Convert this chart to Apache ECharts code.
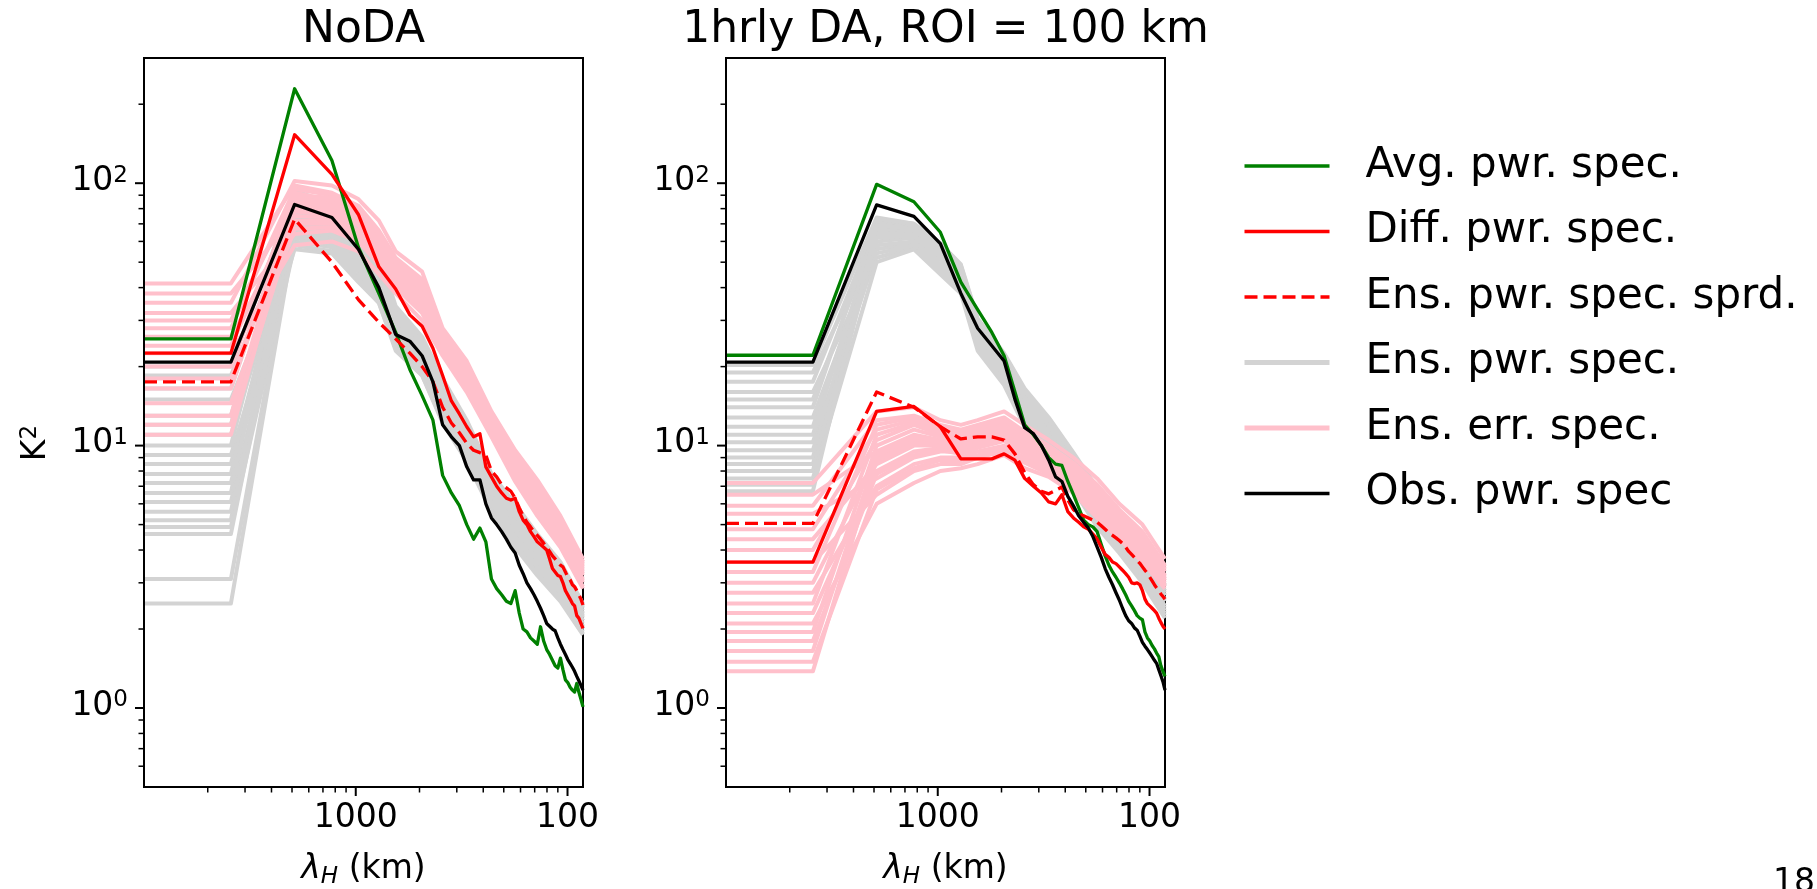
<!DOCTYPE html>
<html><head><meta charset="utf-8">
<script src="https://cdn.jsdelivr.net/npm/echarts@6/dist/echarts.min.js"></script>
<style>html,body{margin:0;padding:0;background:#fff}#c{width:1817px;height:889px}</style>
</head><body><div id="c"></div>
<script>
const FONT = 'DejaVu Sans';
// wavelengths (km) of the spectral points, k = 1..46
const LAMBDA = [3888, 1944, 1296, 972, 777.6, 648, 555.4, 486, 432, 388.8, 353.5, 324, 299.1, 277.7, 259.2, 243, 228.7, 216, 204.6, 194.4, 185.1, 176.7, 169, 162, 155.5, 149.5, 144, 138.9, 134.1, 129.6, 125.4, 121.5, 117.8, 114.4, 111.1, 108, 105.1, 102.3, 99.7, 97.2, 94.8, 92.6, 90.4, 88.4, 86.4, 84.5];
const LEFT_EDGE = 10000;   // left axis limit (mean term drawn flat to the edge)
const RIGHT_EDGE = 84.5;
// wavelengths at which the ensemble members are read
const NODE_LAMBDA = [3888, 1944, 1296, 972, 777.6, 648, 486, 388.8, 299.1, 228.7, 176.7, 138.9, 108, 84.5];

// ---- NoDA panel ----
const NODA_AVG  = [25.5, 229, 122, 57, 38, 27, 19.5, 15.5, 12.5, 7.7, 6.6, 5.9, 5.0, 4.4, 4.85, 4.3, 3.1, 2.85, 2.7, 2.55, 2.5, 2.8, 2.3, 2.0, 1.95, 1.85, 1.8, 1.75, 2.04, 1.8, 1.67, 1.6, 1.52, 1.45, 1.42, 1.55, 1.4, 1.28, 1.25, 1.2, 1.17, 1.15, 1.24, 1.15, 1.08, 1.01];
const NODA_DIFF = [22.5, 153, 108, 76, 48, 39.5, 31.5, 28.5, 23.5, 18.5, 14.8, 13.2, 11.8, 10.8, 11.1, 8.3, 7.6, 7.0, 6.6, 6.3, 6.2, 6.3, 5.6, 5.2, 5.0, 4.7, 4.5, 4.3, 4.2, 4.1, 4.0, 3.7, 3.4, 3.3, 3.2, 3.17, 3.0, 2.8, 2.7, 2.6, 2.5, 2.45, 2.25, 2.2, 2.1, 2.01];
const NODA_SPRD = [17.5, 73, 50, 36, 29.5, 25.5, 22.5, 20, 17.5, 14, 12.2, 11.2, 10.2, 9.6, 9.4, 9.2, 8.0, 7.6, 7.1, 6.9, 6.7, 6.3, 5.8, 5.4, 5.1, 4.9, 4.7, 4.55, 4.4, 4.25, 4.1, 3.95, 3.8, 3.7, 3.6, 3.5, 3.45, 3.3, 3.15, 3.08, 2.95, 2.9, 2.8, 2.7, 2.6, 2.47];
const NODA_OBS  = [20.8, 83, 74, 56, 40, 26.5, 25, 22, 17.5, 12, 10.8, 10, 8.3, 7.4, 7.4, 6.0, 5.3, 5.0, 4.7, 4.4, 4.1, 3.9, 3.5, 3.25, 3.0, 2.85, 2.7, 2.55, 2.4, 2.25, 2.1, 2.05, 2.0, 1.97, 1.85, 1.75, 1.67, 1.6, 1.53, 1.48, 1.43, 1.38, 1.32, 1.27, 1.22, 1.17];
const NODA_ENS_PWR = [
  [20, 92, 82, 66, 52, 33, 25, 17, 12, 7.6, 5.8, 4.5, 3.5, 2.45],
  [18.5, 70, 62, 50, 40, 27, 21, 14, 10, 6.5, 4.9, 3.8, 3.0, 2.15],
  [16.5, 85, 75, 60, 47, 30, 23, 15.5, 11, 7.0, 5.3, 4.1, 3.2, 2.3],
  [15, 60, 57, 44, 36, 24, 19, 12.5, 9, 5.8, 4.3, 3.3, 2.6, 1.95],
  [13, 78, 70, 57, 45, 29, 22, 15, 10.5, 6.8, 5.1, 4.0, 3.1, 2.25],
  [12, 94, 83, 68, 54, 34, 26, 18, 12.5, 7.8, 6.0, 4.6, 3.6, 2.5],
  [11, 65, 60, 48, 39, 26, 20, 13.5, 9.5, 6.2, 4.6, 3.5, 2.8, 2.05],
  [10, 88, 78, 62, 49, 31, 24, 16, 11.5, 7.3, 5.5, 4.3, 3.4, 2.4],
  [9.2, 56, 54, 42, 35, 23, 18.5, 12.2, 8.7, 5.6, 4.1, 3.2, 2.55, 1.9],
  [8.5, 74, 66, 54, 43, 28, 21.5, 14.5, 10.2, 6.6, 5.0, 3.9, 3.05, 2.2],
  [7.8, 81, 72, 58, 46, 30, 22.5, 15.2, 10.8, 6.9, 5.2, 4.0, 3.15, 2.28],
  [7.2, 68, 61, 49, 40, 27, 20.5, 13.8, 9.8, 6.3, 4.7, 3.6, 2.85, 2.1],
  [6.6, 90, 80, 64, 50, 32, 24.5, 16.5, 11.8, 7.5, 5.6, 4.4, 3.45, 2.42],
  [6.1, 62, 58, 46, 37, 25, 19.5, 13, 9.2, 6.0, 4.5, 3.4, 2.7, 2.0],
  [5.6, 76, 68, 55, 44, 28.5, 22, 14.8, 10.4, 6.7, 5.0, 3.9, 3.1, 2.22],
  [5.2, 83, 74, 59, 47, 30.5, 23, 15.8, 11.2, 7.1, 5.4, 4.2, 3.3, 2.35],
  [4.9, 58, 55, 43, 35, 23.5, 18.5, 12.4, 8.8, 5.7, 4.2, 3.25, 2.6, 1.92],
  [4.6, 72, 64, 52, 42, 27.5, 21, 14.2, 10, 6.4, 4.8, 3.7, 2.95, 2.15],
  [3.1, 66, 60, 48, 39, 26, 20, 13.4, 9.5, 6.1, 4.6, 3.5, 2.8, 2.05],
  [2.5, 64, 58, 47, 38, 25.5, 19.8, 13.2, 9.4, 6.0, 4.5, 3.45, 2.75, 2.02]
];
const NODA_ENS_ERR = [
  [41.5, 98, 92, 82, 66, 52, 43, 26, 19.5, 12.8, 9.2, 7.1, 5.2, 3.6],
  [38, 75, 74, 66, 55, 44, 36, 24, 17.5, 11.8, 8.2, 6.3, 4.6, 3.2],
  [35, 102, 98, 87, 72, 55, 46, 28, 21, 13.5, 9.6, 7.4, 5.4, 3.7],
  [32, 64, 66, 60, 49, 40, 32, 22.5, 16.3, 11, 7.5, 5.6, 4.2, 2.9],
  [30, 88, 84, 76, 62, 49, 40, 25.5, 18.8, 12.4, 8.8, 6.8, 5.0, 3.45],
  [28, 95, 90, 80, 65, 51, 42, 27, 20, 13, 9.3, 7.2, 5.25, 3.6],
  [26, 70, 70, 63, 52, 42, 34, 23, 16.8, 11.2, 7.8, 6.0, 4.4, 3.05],
  [24, 82, 80, 72, 59, 47, 38, 24.8, 18.2, 12, 8.5, 6.5, 4.8, 3.35],
  [22.5, 58, 60, 55, 45, 38, 30, 22, 16, 10.8, 7.3, 5.4, 4.1, 2.85],
  [20, 92, 86, 78, 63, 50, 41, 26, 19.2, 12.6, 9.0, 6.9, 5.1, 3.5],
  [18, 78, 76, 69, 56, 45, 37, 24.2, 17.8, 11.7, 8.3, 6.4, 4.7, 3.25],
  [16.5, 85, 82, 74, 60, 48, 39, 25.2, 18.6, 12.2, 8.7, 6.6, 4.9, 3.4],
  [14.5, 67, 68, 62, 51, 41, 33, 22.6, 16.5, 11.1, 7.6, 5.8, 4.3, 3.0],
  [13, 90, 88, 79, 64, 50, 41, 26.5, 19.6, 12.9, 9.1, 7.0, 5.15, 3.55],
  [12, 72, 72, 64, 53, 43, 35, 23.4, 17, 11.4, 8.0, 6.1, 4.5, 3.1],
  [11, 80, 78, 70, 57, 46, 37.5, 24.5, 18, 11.9, 8.4, 6.45, 4.75, 3.3]
];

// ---- 1hrly DA panel ----
const DA_AVG  = [22.1, 99, 85, 65, 42, 33, 27, 22, 16, 12, 11, 10, 9, 8.5, 8.4, 7.3, 6.5, 5.8, 5.2, 5.0, 4.9, 4.7, 4.2, 3.8, 3.5, 3.3, 3.15, 3.0, 2.85, 2.7, 2.55, 2.45, 2.35, 2.25, 2.2, 2.17, 1.95, 1.85, 1.8, 1.73, 1.68, 1.62, 1.57, 1.45, 1.38, 1.32];
const DA_DIFF = [3.6, 13.5, 14.1, 11.8, 8.9, 8.9, 8.9, 9.3, 8.8, 7.5, 7.0, 6.6, 6.1, 6.0, 6.5, 5.6, 5.3, 5.1, 4.9, 4.8, 4.6, 4.4, 4.1, 3.85, 3.75, 3.6, 3.55, 3.45, 3.35, 3.25, 3.15, 3.0, 2.98, 3.0, 2.95, 2.8, 2.6, 2.5, 2.45, 2.4, 2.35, 2.3, 2.2, 2.12, 2.05, 2.0];
const DA_SPRD = [5.05, 16, 14, 11.8, 10.6, 10.8, 10.8, 10.5, 9.3, 7.9, 7.1, 6.7, 6.55, 6.75, 6.95, 6.2, 5.7, 5.5, 5.4, 5.3, 5.2, 5.1, 4.95, 4.8, 4.65, 4.55, 4.45, 4.35, 4.24, 4.1, 3.95, 3.85, 3.75, 3.65, 3.56, 3.45, 3.35, 3.26, 3.15, 3.05, 2.95, 2.87, 2.8, 2.72, 2.66, 2.6];
const DA_OBS  = [20.8, 82.7, 74.7, 58.8, 38, 28, 24, 21, 15, 11.7, 11.1, 10, 8.8, 7.6, 7.3, 6.4, 5.9, 5.4, 5.1, 4.85, 4.5, 4.1, 3.75, 3.4, 3.15, 2.95, 2.75, 2.58, 2.4, 2.25, 2.15, 2.1, 2.02, 1.98, 1.88, 1.78, 1.72, 1.67, 1.62, 1.57, 1.52, 1.48, 1.4, 1.33, 1.26, 1.17];
const DA_ENS_PWR = [
  [20.3, 74, 70, 59, 49, 30.5, 22.5, 16.5, 12.8, 9.4, 6.9, 5.2, 3.95, 2.95],
  [19, 60, 62, 51, 42, 26, 19, 13.5, 10.5, 7.6, 5.6, 4.3, 3.3, 2.45],
  [17.5, 70, 68, 57, 47, 29, 21.5, 15.5, 12, 8.8, 6.5, 4.9, 3.7, 2.8],
  [16, 52, 57, 46, 39, 23.5, 17.5, 12.2, 9.7, 7.0, 5.1, 4.0, 3.05, 2.25],
  [15, 66, 66, 55, 45, 28, 20.5, 14.8, 11.5, 8.4, 6.2, 4.7, 3.6, 2.7],
  [14, 72, 69, 58, 48, 30, 22, 16, 12.4, 9.1, 6.7, 5.1, 3.85, 2.9],
  [12.8, 56, 59, 48, 40, 24.5, 18, 12.8, 10, 7.3, 5.3, 4.1, 3.15, 2.35],
  [11.8, 64, 64, 53, 44, 27, 20, 14.2, 11, 8.1, 5.9, 4.5, 3.45, 2.6],
  [11, 68, 67, 56, 46, 28.5, 21, 15, 11.8, 8.6, 6.3, 4.8, 3.65, 2.75],
  [10.3, 54, 58, 47, 39.5, 24, 17.8, 12.5, 9.9, 7.2, 5.2, 4.05, 3.1, 2.3],
  [9.6, 62, 63, 52, 43, 26.5, 19.5, 13.8, 10.8, 7.9, 5.8, 4.4, 3.4, 2.55],
  [9.0, 73, 70, 59, 48.5, 30, 22.2, 16.2, 12.6, 9.2, 6.8, 5.15, 3.9, 2.92],
  [8.5, 58, 60, 49, 41, 25, 18.5, 13.2, 10.2, 7.5, 5.45, 4.2, 3.2, 2.4],
  [8.0, 67, 66, 55, 45.5, 28, 20.8, 14.6, 11.3, 8.3, 6.1, 4.6, 3.55, 2.68],
  [7.5, 50, 56, 45, 38, 23, 17, 11.8, 9.5, 6.8, 4.9, 3.9, 3.0, 2.2],
  [7.1, 63, 63, 52, 43.5, 26.8, 19.8, 14, 10.9, 8.0, 5.85, 4.45, 3.4, 2.58],
  [6.7, 69, 67, 56, 46.5, 29, 21.2, 15.2, 11.9, 8.7, 6.4, 4.85, 3.7, 2.8]
];
const DA_ENS_ERR = [
  [7.2, 13.5, 14, 12.5, 12, 12.5, 13.5, 12, 10.5, 9.0, 7.5, 6.0, 5.0, 3.7],
  [6.5, 9.5, 11, 10.5, 10, 10.5, 11, 10, 9, 7.8, 6.4, 5.1, 4.2, 3.2],
  [5.9, 12.5, 13, 12, 11.5, 12, 12.8, 11.3, 10, 8.6, 7.1, 5.7, 4.7, 3.5],
  [5.5, 7.5, 9, 9.5, 9.5, 10, 10.5, 9.4, 8.5, 7.3, 6.0, 4.9, 4.0, 3.05],
  [4.8, 11.5, 12.5, 11.5, 11, 11.5, 12.2, 10.8, 9.6, 8.3, 6.8, 5.5, 4.5, 3.4],
  [4.4, 8.5, 10, 10, 9.8, 10.2, 10.8, 9.7, 8.8, 7.6, 6.2, 5.0, 4.1, 3.1],
  [4.0, 10.5, 12, 11, 10.5, 11, 11.8, 10.5, 9.3, 8.0, 6.6, 5.3, 4.35, 3.3],
  [3.6, 6.5, 8, 8.5, 8.5, 9, 9.5, 8.6, 7.8, 6.8, 5.5, 4.5, 3.7, 2.9],
  [3.3, 12, 12.8, 11.8, 11.2, 11.8, 12.5, 11, 9.8, 8.5, 7.0, 5.6, 4.6, 3.45],
  [3.0, 9, 10.5, 10.2, 10, 10.5, 11.2, 9.9, 9.0, 7.7, 6.3, 5.05, 4.15, 3.15],
  [2.75, 7, 8.5, 9, 9, 9.5, 10, 9, 8.2, 7.1, 5.8, 4.7, 3.85, 2.95],
  [2.5, 11, 12.2, 11.2, 10.8, 11.2, 12, 10.6, 9.5, 8.2, 6.7, 5.4, 4.4, 3.35],
  [2.3, 8, 9.5, 9.8, 9.6, 10, 10.6, 9.5, 8.6, 7.4, 6.1, 4.95, 4.05, 3.1],
  [2.1, 6, 7.2, 8, 8.2, 8.5, 9.2, 8.2, 7.6, 6.6, 5.3, 4.4, 3.6, 2.85],
  [1.95, 10, 11.5, 10.8, 10.3, 10.8, 11.5, 10.2, 9.2, 7.9, 6.5, 5.2, 4.25, 3.2],
  [1.8, 7.8, 9.2, 9.6, 9.3, 9.8, 10.4, 9.3, 8.4, 7.2, 5.9, 4.8, 3.9, 3.0],
  [1.65, 9.2, 10.8, 10.3, 10, 10.4, 11, 9.8, 8.9, 7.7, 6.3, 5.0, 4.1, 3.12],
  [1.5, 6.8, 8.2, 8.8, 8.8, 9.2, 9.8, 8.8, 8.0, 6.9, 5.6, 4.6, 3.75, 2.92],
  [1.38, 8.8, 10.2, 10, 9.7, 10.2, 10.8, 9.6, 8.7, 7.5, 6.2, 4.9, 4.0, 3.05]
];

// ---- texts / ticks ----
const TITLES = ['NoDA', '1hrly DA, ROI = 100 km'];
const LEGEND_NAMES = ['Avg. pwr. spec.', 'Diff. pwr. spec.', 'Ens. pwr. spec. sprd.', 'Ens. pwr. spec.', 'Ens. err. spec.', 'Obs. pwr. spec'];
const X_MAJOR = [1000, 100];
const X_MAJOR_LABELS = ['1000', '100'];
const X_MINOR = [5000, 3333.3, 2500, 2000, 1666.7, 1428.6, 1250, 1111.1, 500, 333.3, 250, 200, 166.7, 142.9, 125, 111.1];
const Y_MAJOR = [1, 10, 100];
const Y_MAJOR_EXP = ['0', '1', '2'];
const Y_MINOR = [0.6, 0.7, 0.8, 0.9, 2, 3, 4, 5, 6, 7, 8, 9, 20, 30, 40, 50, 60, 70, 80, 90, 200];
const Y_MIN = 0.5, Y_MAX = 300;

const COLORS = {avg: '#008000', diff: '#ff0000', sprd: '#ff0000', pwr: '#d3d3d3', err: '#ffc0cb', obs: '#000000'};
const MAIN_W = 3.3, ENS_W = 4, DASH = [13, 6];

const GRIDS = [
  {left: 144, top: 58, width: 439, height: 729},
  {left: 726, top: 58, width: 439, height: 729}
];

function mainData(vals) {
  const d = [[LEFT_EDGE, vals[0]]];
  LAMBDA.forEach((l, i) => d.push([l, vals[i]]));
  return d;
}
function nodeData(vals) {
  const d = [[LEFT_EDGE, vals[0]]];
  NODE_LAMBDA.forEach((l, i) => d.push([l, vals[i]]));
  return d;
}
function lineSeries(name, p, data, color, width, z, type) {
  return {
    type: 'line', name, xAxisIndex: p, yAxisIndex: p, data,
    symbol: 'none', showSymbol: false, clip: true, silent: true, z,
    lineStyle: {color, width, type: type || 'solid', cap: 'butt', join: 'round'},
    itemStyle: {color},
    emphasis: {disabled: true}, animation: false
  };
}

const series = [];
const panels = [
  {avg: NODA_AVG, diff: NODA_DIFF, sprd: NODA_SPRD, obs: NODA_OBS, pwr: NODA_ENS_PWR, err: NODA_ENS_ERR},
  {avg: DA_AVG, diff: DA_DIFF, sprd: DA_SPRD, obs: DA_OBS, pwr: DA_ENS_PWR, err: DA_ENS_ERR}
];
panels.forEach((P, p) => {
  P.pwr.forEach(m => series.push(lineSeries(LEGEND_NAMES[3], p, nodeData(m), COLORS.pwr, ENS_W, 2)));
  P.err.forEach(m => series.push(lineSeries(LEGEND_NAMES[4], p, nodeData(m), COLORS.err, ENS_W, 3)));
  series.push(lineSeries(LEGEND_NAMES[0], p, mainData(P.avg), COLORS.avg, MAIN_W, 5));
  series.push(lineSeries(LEGEND_NAMES[1], p, mainData(P.diff), COLORS.diff, MAIN_W, 5));
  series.push(lineSeries(LEGEND_NAMES[2], p, mainData(P.sprd), COLORS.sprd, MAIN_W, 5, DASH));
  series.push(lineSeries(LEGEND_NAMES[5], p, mainData(P.obs), COLORS.obs, MAIN_W, 6));

  // x ticks (major + labels)
  series.push({
    type: 'custom', xAxisIndex: p, yAxisIndex: p, silent: true, clip: false, z: 20, animation: false,
    data: X_MAJOR.map(v => [v, Y_MIN]),
    renderItem: (params, api) => {
      const c = api.coord([api.value(0), api.value(1)]);
      return {type: 'group', children: [
        {type: 'line', shape: {x1: c[0], y1: c[1], x2: c[0], y2: c[1] + 9}, style: {stroke: '#000', lineWidth: 2}},
        {type: 'text', x: c[0], y: c[1] + 31, style: {text: X_MAJOR_LABELS[params.dataIndex], fontSize: 33, fontFamily: FONT, fill: '#000', align: 'center', verticalAlign: 'middle'}}
      ]};
    }
  });
  series.push({
    type: 'custom', xAxisIndex: p, yAxisIndex: p, silent: true, clip: false, z: 20, animation: false,
    data: X_MINOR.map(v => [v, Y_MIN]),
    renderItem: (params, api) => {
      const c = api.coord([api.value(0), api.value(1)]);
      return {type: 'line', shape: {x1: c[0], y1: c[1], x2: c[0], y2: c[1] + 5.5}, style: {stroke: '#000', lineWidth: 1.5}};
    }
  });
  // y ticks
  series.push({
    type: 'custom', xAxisIndex: p, yAxisIndex: p, silent: true, clip: false, z: 20, animation: false,
    data: Y_MAJOR.map(v => [LEFT_EDGE, v]),
    renderItem: (params, api) => {
      const c = api.coord([api.value(0), api.value(1)]);
      return {type: 'group', children: [
        {type: 'line', shape: {x1: c[0] - 9, y1: c[1], x2: c[0], y2: c[1]}, style: {stroke: '#000', lineWidth: 2}},
        {type: 'text', x: c[0] - 16, y: c[1] - 2, style: {
          text: '10{s|' + Y_MAJOR_EXP[params.dataIndex] + '}', fontSize: 33, fontFamily: FONT, fill: '#000',
          align: 'right', verticalAlign: 'middle', lineHeight: 34,
          rich: {s: {fontSize: 23, fontFamily: FONT, fill: '#000', lineHeight: 16, verticalAlign: 'top'}}
        }}
      ]};
    }
  });
  series.push({
    type: 'custom', xAxisIndex: p, yAxisIndex: p, silent: true, clip: false, z: 20, animation: false,
    data: Y_MINOR.map(v => [LEFT_EDGE, v]),
    renderItem: (params, api) => {
      const c = api.coord([api.value(0), api.value(1)]);
      return {type: 'line', shape: {x1: c[0] - 5.5, y1: c[1], x2: c[0], y2: c[1]}, style: {stroke: '#000', lineWidth: 1.5}};
    }
  });
});

const axisBase = {
  axisTick: {show: false}, axisLabel: {show: false}, splitLine: {show: false},
  axisLine: {show: true, onZero: false, lineStyle: {color: '#000', width: 2}}, z: 10
};

const LEGEND_STYLE = [
  {color: COLORS.avg, width: 3.5, type: 'solid'},
  {color: COLORS.diff, width: 3.5, type: 'solid'},
  {color: COLORS.sprd, width: 3.5, type: DASH},
  {color: COLORS.pwr, width: 5, type: 'solid'},
  {color: COLORS.err, width: 5, type: 'solid'},
  {color: COLORS.obs, width: 3.5, type: 'solid'}
];

const option = {
  animation: false,
  backgroundColor: '#ffffff',
  title: GRIDS.map((g, i) => ({
    text: TITLES[i], left: g.left + g.width / 2, top: 6, textAlign: 'center', padding: 0,
    textStyle: {fontFamily: FONT, fontSize: 44, fontWeight: 'normal', color: '#000', lineHeight: 50}
  })),
  grid: GRIDS.map(g => Object.assign({show: true, borderColor: '#000', borderWidth: 2, backgroundColor: 'transparent'}, g)),
  xAxis: GRIDS.map((g, i) => Object.assign({type: 'log', gridIndex: i, inverse: true, min: RIGHT_EDGE, max: LEFT_EDGE, position: 'bottom'}, axisBase)),
  yAxis: GRIDS.map((g, i) => Object.assign({type: 'log', gridIndex: i, min: Y_MIN, max: Y_MAX, position: 'left'}, axisBase)),
  legend: {
    data: LEGEND_NAMES.map((n, i) => ({name: n, lineStyle: LEGEND_STYLE[i], itemStyle: {opacity: 0}})),
    orient: 'vertical', left: 1242, top: 141, padding: 0,
    itemWidth: 85, itemHeight: 14, itemGap: 15.5, selectedMode: false,
    itemStyle: {opacity: 0},
    textStyle: {fontFamily: FONT, fontSize: 42, color: '#000', lineHeight: 50, padding: [0, 0, 0, 31]}
  },
  graphic: [
    {type: 'text', x: 363.5, y: 869, silent: true, style: {
      text: '{i|λ}{h|H} (km)', fontSize: 33, fontFamily: FONT, fill: '#000', align: 'center', verticalAlign: 'middle', lineHeight: 40,
      rich: {i: {fontSize: 33, fontFamily: FONT, fontStyle: 'italic', fill: '#000', lineHeight: 40},
             h: {fontSize: 23, fontFamily: FONT, fontStyle: 'italic', fill: '#000', lineHeight: 16, verticalAlign: 'bottom'}}}},
    {type: 'text', x: 945.5, y: 869, silent: true, style: {
      text: '{i|λ}{h|H} (km)', fontSize: 33, fontFamily: FONT, fill: '#000', align: 'center', verticalAlign: 'middle', lineHeight: 40,
      rich: {i: {fontSize: 33, fontFamily: FONT, fontStyle: 'italic', fill: '#000', lineHeight: 40},
             h: {fontSize: 23, fontFamily: FONT, fontStyle: 'italic', fill: '#000', lineHeight: 16, verticalAlign: 'bottom'}}}},
    {type: 'text', x: 36, y: 443, rotation: Math.PI / 2, silent: true, style: {
      text: 'K{s|2}', fontSize: 33, fontFamily: FONT, fill: '#000', align: 'center', verticalAlign: 'middle', lineHeight: 34,
      rich: {s: {fontSize: 23, fontFamily: FONT, fill: '#000', lineHeight: 16, verticalAlign: 'top'}}}},
    {type: 'text', x: 1773, y: 883, silent: true, style: {
      text: '18', fontSize: 33, fontFamily: FONT, fill: '#000', align: 'left', verticalAlign: 'middle'}}
  ],
  series
};

const chart = echarts.init(document.getElementById('c'), null, {renderer: 'canvas'});
chart.setOption(option);
</script>
</body></html>
